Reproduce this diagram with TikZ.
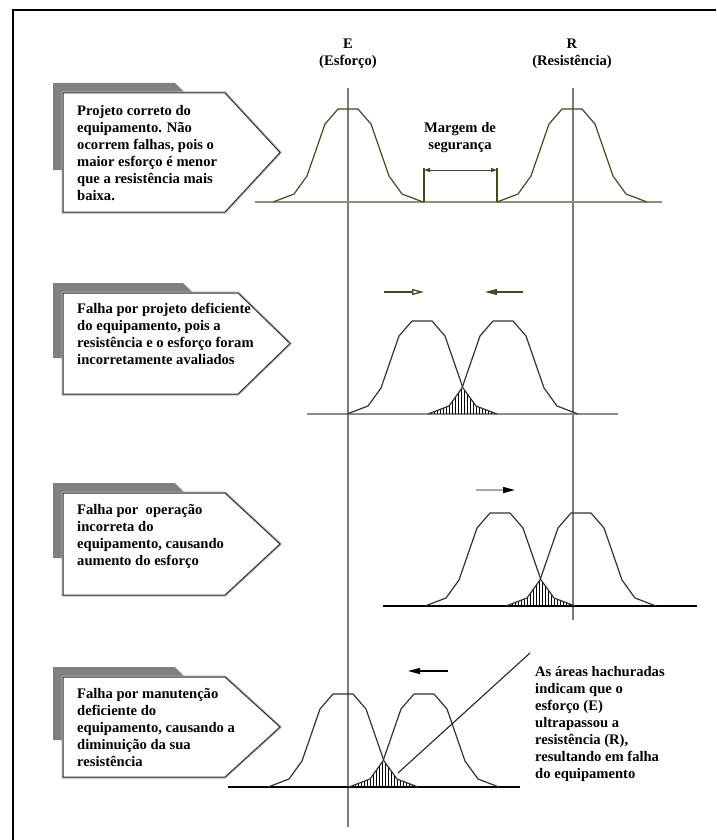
\documentclass[tikz,border=0pt]{standalone}
\usepackage{fontspec}
\setmainfont{Liberation Serif}
\usetikzlibrary{arrows.meta}
\definecolor{olivedark}{RGB}{72,72,40}
\definecolor{vlinecol}{RGB}{125,125,115}
\definecolor{shadowgray}{RGB}{128,128,128}
\newcommand\bellpts{(-75,0) -- (-54,-8) -- (-41,-26) -- (-23,-78) -- (-10,-93) -- (10,-93) -- (23,-78) -- (41,-26) -- (54,-8) -- (75,0)}
\tikzset{
 curveolive/.style={draw=olivedark, line width=1.2pt, line join=round},
 curvedark/.style={draw=black!80, line width=1.2pt, line join=round},
 vlinestyle/.style={draw=vlinecol, line width=1.4pt},
 basegray/.style={draw=black!45, line width=1.4pt},
 baseblack/.style={draw=black, line width=1.4pt},
 hatchline/.style={draw=black, line width=0.9pt},
 shadowfill/.style={fill=shadowgray},
 boxhalo/.style={draw=black!30, line width=3pt, line join=miter},
 boxshape/.style={fill=white, draw=black!80, line width=1pt, line join=miter},
 boxtext/.style={anchor=north west, inner sep=0pt, align=left, font=\fontsize{14.6}{17}\selectfont\bfseries},
 lbl/.style={inner sep=0pt, align=center, font=\fontsize{14.6}{17}\selectfont\bfseries},
 headfill/.style={-{Triangle[length=12pt,width=6pt]}},
}
\begin{document}
\begin{tikzpicture}[x=1pt,y=-1pt]
\useasboundingbox (0,0) rectangle (716,840);
\fill[white] (0,0) rectangle (716,840);
% frame
\draw[black, line width=2pt] (716,10) -- (13,10) -- (13,840);

% vertical reference lines
\draw[vlinestyle] (348,88) -- (348,827);
\draw[vlinestyle] (573,88) -- (573,620);

% labels
\node[lbl, anchor=north] (Elbl) at (348,36.1) {\strut E\\(Esforço)};
\node[lbl, anchor=north] (Rlbl) at (572,36.1) {\strut R\\(Resistência)};

% ===== Panel 1 =====
\draw[basegray, draw=olivedark!60] (255,202) -- (662,202);
\draw[curveolive, shift={(348,202)}] \bellpts;
\draw[curveolive, shift={(572,202)}] \bellpts;
\draw[curveolive] (424,202) -- (424,168);
\draw[curveolive] (497,202) -- (497,168);
\draw[olivedark, line width=1pt, {Triangle[length=6pt,width=4pt]}-{Triangle[length=6pt,width=4pt]}] (424,170) -- (497,170);
\node[lbl, anchor=north] (margem) at (460,120.1) {\strut Margem de\\segurança};

\fill[shadowfill] (53,83) -- (175,83) -- (185,93) -- (185,170) -- (53,170) -- cycle;
\draw[boxhalo] (63,93) -- (225,93) -- (280,152.5) -- (225,212) -- (63,212) -- cycle;
\draw[boxshape] (63,93) -- (225,93) -- (280,152.5) -- (225,212) -- (63,212) -- cycle;
\node[boxtext] (t1) at (77,103.1) {\strut Projeto correto do\\equipamento. Não\\ocorrem falhas, pois o\\maior esforço é menor\\que a resistência mais\\baixa.};

% ===== Panel 2 =====
\draw[basegray] (307,414) -- (618,414);
\begin{scope}[shift={(422,414)}]
 \begin{scope}
  \clip \bellpts -- cycle;
  \clip[shift={(81,0)}] \bellpts -- cycle;
  \foreach \x in {3,6,...,78} \draw[hatchline] (\x,1) -- (\x,-30);
 \end{scope}
 \draw[curvedark] \bellpts;
 \draw[curvedark, shift={(81,0)}] \bellpts;
\end{scope}
\draw[olivedark, line width=1.3pt, -{Triangle[open, fill=white, length=12pt, width=6pt]}] (384,292) -- (424,292);
\draw[olivedark, line width=1.3pt, headfill] (523,292) -- (485,292);

\fill[shadowfill] (53,283) -- (183,283) -- (193,293) -- (193,358) -- (53,358) -- cycle;
\draw[boxhalo] (63,293) -- (238,293) -- (290,343.5) -- (238,394) -- (63,394) -- cycle;
\draw[boxshape] (63,293) -- (238,293) -- (290,343.5) -- (238,394) -- (63,394) -- cycle;
\node[boxtext] (t2) at (77,301.1) {\strut Falha por projeto deficiente\\do equipamento, pois a\\resistência e o esforço foram\\incorretamente avaliados};

% ===== Panel 3 =====
\draw[baseblack] (383,606) -- (697,606);
\begin{scope}[shift={(500,606)}]
 \begin{scope}
  \clip \bellpts -- cycle;
  \clip[shift={(81,0)}] \bellpts -- cycle;
  \foreach \x in {3,6,...,78} \draw[hatchline] (\x,1) -- (\x,-30);
 \end{scope}
 \draw[curvedark] \bellpts;
 \draw[curvedark, shift={(81,0)}] \bellpts;
\end{scope}
\draw[black!35, line width=1.5pt, -{Triangle[length=12pt,width=6pt,black]}] (476,490) -- (515,490);

\fill[shadowfill] (53,483) -- (175,483) -- (185,493) -- (185,558) -- (53,558) -- cycle;
\draw[boxhalo] (63,493) -- (225,493) -- (280,544) -- (225,595) -- (63,595) -- cycle;
\draw[boxshape] (63,493) -- (225,493) -- (280,544) -- (225,595) -- (63,595) -- cycle;
\node[boxtext] (t3) at (77,502.1) {\strut Falha por\ \ operação\\incorreta do\\equipamento, causando\\aumento do esforço};

% ===== Panel 4 =====
\draw[baseblack] (228,787) -- (520,787);
\begin{scope}[shift={(343,787)}]
 \begin{scope}
  \clip \bellpts -- cycle;
  \clip[shift={(81,0)}] \bellpts -- cycle;
  \foreach \x in {3,6,...,78} \draw[hatchline] (\x,1) -- (\x,-30);
 \end{scope}
 \draw[curvedark] \bellpts;
 \draw[curvedark, shift={(81,0)}] \bellpts;
\end{scope}
\draw[black, line width=1.3pt, headfill] (448,671) -- (408,671);
\coordinate (ptr1) at (398,773);
\coordinate (ptr2) at (530,653);
\draw[black!85, line width=1.1pt] (ptr1) -- (ptr2);
\node[boxtext] (tnote) at (535,664.1) {\strut As áreas hachuradas\\indicam que o\\esforço (E)\\ultrapassou a\\resistência (R),\\resultando em falha\\do equipamento};

\fill[shadowfill] (53,667) -- (175,667) -- (185,677) -- (185,740) -- (53,740) -- cycle;
\draw[boxhalo] (63,677) -- (225,677) -- (280,727) -- (225,777) -- (63,777) -- cycle;
\draw[boxshape] (63,677) -- (225,677) -- (280,727) -- (225,777) -- (63,777) -- cycle;
\node[boxtext] (t4) at (77,686.1) {\strut Falha por manutenção\\deficiente do\\equipamento, causando a\\diminuição da sua\\resistência};
\end{tikzpicture}
\end{document}
